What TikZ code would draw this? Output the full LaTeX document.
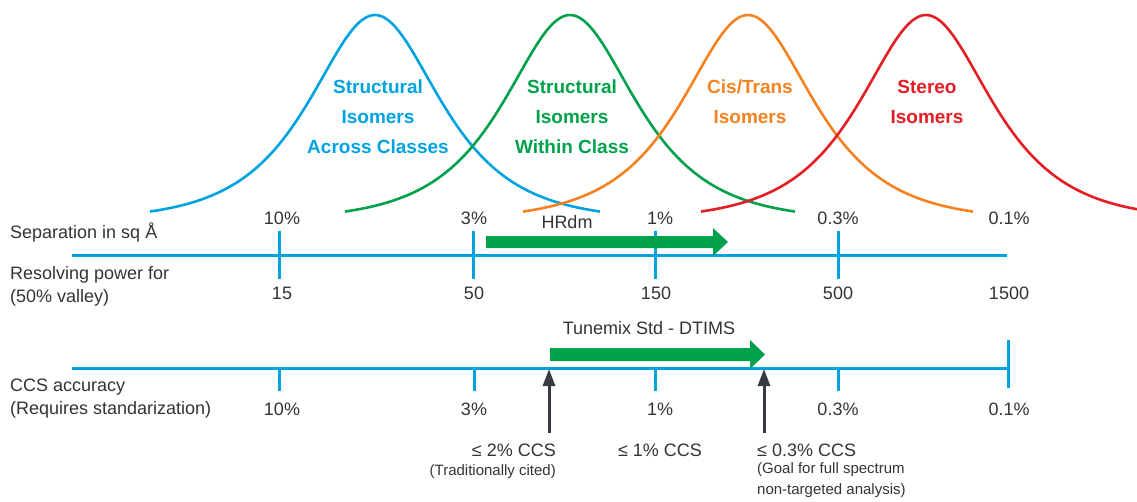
\documentclass[tikz,border=0pt]{standalone}
\usepackage{fontspec}
\setmainfont{Liberation Sans}
\usetikzlibrary{positioning, arrows.meta}

\definecolor{isoblue}{RGB}{0,163,224}
\definecolor{isogreen}{RGB}{0,161,75}
\definecolor{isoorange}{RGB}{245,130,32}
\definecolor{isored}{RGB}{227,30,36}
\definecolor{txtgray}{RGB}{51,51,51}
\definecolor{pointgray}{RGB}{54,58,69}

\begin{document}
\begin{tikzpicture}[x = 1pt, y = -1pt,
    every node/.style = { text = txtgray, inner sep = 0pt, font = \fontsize{18}{23}\selectfont },
    peak/.style = { line width = 2.6pt },
    peaklabel/.style = { align = center, font = \fontsize{19}{30}\selectfont\bfseries },
    axisline/.style = { draw = isoblue, line width = 3pt },
    note/.style = { font = \fontsize{15}{21}\selectfont },
    pointer/.style = { draw = pointgray, line width = 3pt, -{Triangle[length = 17pt, width = 12pt]} }]
    \useasboundingbox (0,0) rectangle (1137,501);

    % bell curves
    \foreach \c/\col in {375/isoblue, 570/isogreen, 748/isoorange}
      \draw[peak, \col] plot[domain = \c-225:\c+225, samples = 90, smooth] (\x, {220-205/cosh((\x-\c)/58)});
    \draw[peak, isored] plot[domain = 701:1137, samples = 90, smooth] (\x, {220-205/cosh((\x-926)/58)});

    \node[peaklabel, text = isoblue] (across) at (378,117) { Structural \\ Isomers \\ Across Classes };
    \node[peaklabel, text = isogreen] (within) at (572,117) { Structural \\ Isomers \\ Within Class };
    \node[peaklabel, text = isoorange] (cistrans) at (750,102) { Cis/Trans \\ Isomers };
    \node[peaklabel, text = isored] (stereo) at (927,102) { Stereo \\ Isomers };

    % separation / resolving power axis
    \draw[axisline] (72,255) -- (1007,255);
    \foreach \x in {279,473,655,838}
      \draw[axisline] (\x,231) -- (\x,279);
    \foreach \x/\t [count = \i] in {282/10\%, 474/3\%, 660/1\%, 838/0.3\%, 1009/0.1\%}
      \node (sep\i) at (\x,218) { \t };
    \foreach \x/\t [count = \i] in {282/15, 474/50, 656/150, 838/500, 1009/1500}
      \node (res\i) at (\x,293) { \t };

    \node[anchor = west] (seplabel) at (10,233) { Separation in sq Å };
    \node[anchor = west, align = left] (reslabel) at (10,286.5) { Resolving power for \\ (50\% valley) };

    \node (hrdm) at (567,222) { HRdm };
    \fill[isogreen] (486,236) -- (713,236) -- (713,228) -- (728,242) -- (713,256) -- (713,248) -- (486,248) -- cycle;

    % CCS accuracy axis
    \draw[axisline] (72,368) -- (1008,368);
    \foreach \x in {279,474,655,838}
      \draw[axisline] (\x,368) -- (\x,391);
    \draw[axisline] (1008,340) -- (1008,388);
    \foreach \x/\t [count = \i] in {282/10\%, 474/3\%, 660/1\%, 838/0.3\%, 1009/0.1\%}
      \node (ccs\i) at (\x,409) { \t };

    \node[anchor = west, align = left] (ccslabel) at (10,398.5) { CCS accuracy \\ (Requires standarization) };

    \node (tunemix) at (649,328) { Tunemix Std - DTIMS };
    \fill[isogreen] (550,348) -- (750,348) -- (750,340) -- (765,354.5) -- (750,369) -- (750,361) -- (550,361) -- cycle;

    % accuracy pointers
    \node[anchor = east] (twopct) at (556,450) { ≤ 2\% CCS };
    \node[anchor = east, note] (tradnote) at (556,472) { (Traditionally cited) };
    \node (onepct) at (660,450) { ≤ 1\% CCS };
    \node[anchor = west] (goalpct) at (757,450) { ≤ 0.3\% CCS };
    \node[anchor = north west, note, align = left] (goalnote) at (757,462) { (Goal for full spectrum \\ non-targeted analysis) };

    \coordinate (tradfoot) at (549,433);
    \coordinate (tradtip) at (549,369);
    \coordinate (goalfoot) at (764,433);
    \coordinate (goaltip) at (764,369);
    \draw[pointer] (tradfoot) -- (tradtip);
    \draw[pointer] (goalfoot) -- (goaltip);
\end{tikzpicture}
\end{document}
